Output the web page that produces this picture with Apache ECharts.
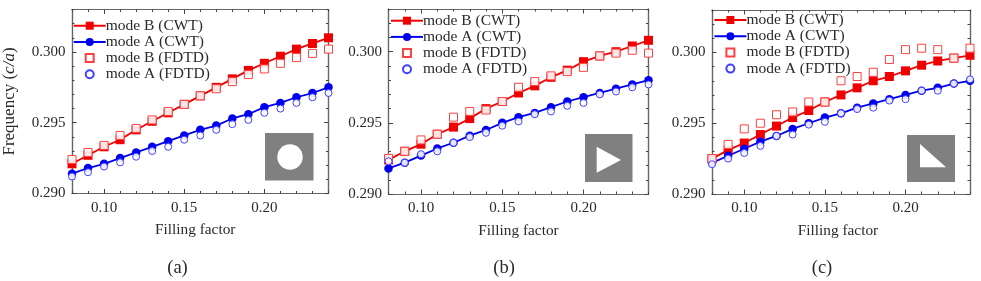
<!DOCTYPE html>
<html><head><meta charset="utf-8">
<style>html,body{margin:0;padding:0;background:#fff}#c{width:981px;height:281px}</style>
<script src="https://cdn.jsdelivr.net/npm/echarts@6/dist/echarts.min.js"></script>
</head><body><div id="c"></div>
<script>
const fillingFactor = [0.08,0.09,0.10,0.11,0.12,0.13,0.14,0.15,0.16,0.17,0.18,0.19,0.20,0.21,0.22,0.23,0.24];
const xMajor = [0.10,0.15,0.20];
const yMajor = [0.290,0.295,0.300];
const names = ['mode B (CWT)','mode A (CWT)','mode B (FDTD)','mode A (FDTD)'];
const captions = ['(a)','(b)','(c)'];

const aBcwt = [.2921,.2927,.2933,.2938,.2945,.2951,.2957,.2963,.2969,.2975,.2981,.2987,.2992,.2997,.3002,.3006,.3010];
const aAcwt = [.2914,.2918,.2921,.2925,.2929,.2933,.2937,.2941,.2945,.2948,.2953,.2956,.2961,.2964,.2968,.2971,.2975];
const aBfdtd = [.2924,.2929,.2934,.2941,.2946,.2952,.2958,.2963,.2969,.2974,.2979,.2984,.2988,.2992,.2996,.2999,.3002];
const aAfdtd = [.2912,.2915,.2919,.2922,.2926,.2930,.2933,.2938,.2941,.2945,.2949,.2952,.2957,.2960,.2964,.2968,.2971];

const bBcwt = [.2924,.2930,.2935,.2942,.2947,.2953,.2960,.2965,.2971,.2976,.2982,.2987,.2993,.2997,.3000,.3004,.3008];
const bAcwt = [.2918,.2922,.2927,.2932,.2936,.2941,.2945,.2950,.2954,.2957,.2961,.2965,.2968,.2971,.2974,.2977,.2980];
const bBfdtd = [.2925,.2930,.2938,.2942,.2954,.2958,.2959,.2965,.2975,.2979,.2983,.2986,.2989,.2997,.2999,.3001,.2999];
const bAfdtd = [.2923,.2922,.2928,.2930,.2936,.2940,.2943,.2948,.2951,.2956,.2958,.2962,.2964,.2970,.2972,.2975,.2977];

const cBcwt = [.2925,.2931,.2936,.2942,.2948,.2954,.2959,.2965,.2970,.2975,.2980,.2983,.2987,.2991,.2994,.2996,.2998];
const cAcwt = [.2922,.2927,.2932,.2937,.2941,.2946,.2950,.2954,.2957,.2961,.2964,.2967,.2970,.2973,.2975,.2978,.2980];
const cBfdtd = [.2925,.2935,.2946,.2950,.2956,.2958,.2965,.2965,.2980,.2983,.2986,.2995,.3002,.3003,.3002,.2996,.3003];
const cAfdtd = [.2921,.2925,.2929,.2934,.2941,.2942,.2949,.2951,.2957,.2960,.2961,.2966,.2967,.2973,.2973,.2978,.2981];

const panels = [
  {left:70.5,top:9.5,width:258,height:184,vals:[aBcwt,aAcwt,aBfdtd,aAfdtd],cap:177.5,namePad:10,legLeft:72.7,legTop:17.7},
  {left:388.5,top:9,width:260,height:185,vals:[bBcwt,bAcwt,bBfdtd,bAfdtd],cap:504,namePad:0,legLeft:390,legTop:12.7},
  {left:712,top:10,width:258,height:184,vals:[cBcwt,cAcwt,cBfdtd,cAfdtd],cap:822,namePad:6,legLeft:713.4,legTop:12}
];
const FONT = '"Liberation Serif"';
const TXT = '#2a2a2a', AX = '#666';
const RED = '#f00000', BLUE = '#0000f0';
const xA=[],yA=[],grids=[],series=[],legends=[],titles=[];

panels.forEach((p,i)=>{
  grids.push({left:p.left,top:p.top,width:p.width,height:p.height});
  const xs=xA.length, ys=yA.length;
  const base={gridIndex:i,type:'value',splitLine:{show:false},axisLine:{lineStyle:{color:AX,width:1.2},onZero:false}};
  const mkX=(pos,major,label)=>({...base,position:pos,min:0.08,max:0.24,interval:0.01,
    axisTick:{show:true,inside:true,length:major?4.5:2.5,lineStyle:{color:'#444'},customValues:major?xMajor:undefined},
    axisLabel:label?{show:true,customValues:xMajor,formatter:v=>v.toFixed(2),fontFamily:FONT,fontSize:15,color:TXT,margin:7}:{show:false},
    name:label?'Filling factor':'',nameLocation:'middle',nameGap:29,
    nameTextStyle:{fontFamily:FONT,fontSize:15.3,color:TXT,padding:[0,p.namePad,0,0]}});
  const mkY=(pos,major,label)=>({...base,position:pos,min:0.29,max:0.303,interval:0.001,
    axisTick:{show:true,inside:true,length:major?4.5:2.5,lineStyle:{color:'#444'},customValues:major?yMajor:undefined},
    axisLabel:label?{show:true,customValues:yMajor,formatter:v=>v.toFixed(3),fontFamily:FONT,fontSize:15,color:TXT,margin:6.5}:{show:false},
    name:(label&&i===0)?'Frequency ({i|c/a})':'',nameLocation:'middle',nameGap:54,
    nameTextStyle:{fontFamily:FONT,fontSize:17,color:TXT,rich:{i:{fontFamily:FONT,fontStyle:'italic',fontSize:17,color:TXT}}}});
  xA.push(mkX('bottom',false,true),mkX('bottom',true,false),mkX('top',false,false),mkX('top',true,false));
  yA.push(mkY('left',false,true),mkY('left',true,false),mkY('right',false,false),mkY('right',true,false));
  names.forEach((n,k)=>{
    const data=fillingFactor.map((x,j)=>[x,p.vals[k][j]]);
    const col=k%2===0?RED:BLUE, sym=k%2===0?'rect':'circle';
    if(k<2){
      series.push({type:'line',name:n,xAxisIndex:xs,yAxisIndex:ys,data,symbol:sym,symbolSize:k===0?9:8.5,showSymbol:true,
        lineStyle:{color:col,width:1.8},itemStyle:{color:col},z:3,animation:false});
    }else{
      series.push({type:'line',name:n,xAxisIndex:xs,yAxisIndex:ys,data,symbol:sym,symbolSize:k===2?8:7,showSymbol:true,
        lineStyle:{width:0,opacity:0},
        itemStyle:{color:'rgba(255,255,255,0.9)',borderColor:k===2?'#ff4040':'#4040ff',borderWidth:1},z:4,animation:false});
    }
  });
  legends.push({show:true,orient:'vertical',left:p.legLeft,top:p.legTop,padding:0,itemWidth:32,itemHeight:10,itemGap:0.2,
    data:names.map(n=>({name:n})),selectedMode:false,
    textStyle:{fontFamily:FONT,fontSize:15.5,color:TXT,padding:[0,0,0,-5]}});
  titles.push({text:captions[i],left:p.cap,top:259,textAlign:'center',padding:0,
    textStyle:{fontFamily:FONT,fontSize:18.5,fontWeight:'normal',color:TXT}});
});

const GRAY='#808080';
const graphic=[
  {type:'rect',shape:{x:265,y:133,width:48.5,height:47.5},style:{fill:GRAY},z:10},
  {type:'circle',shape:{cx:290,cy:157,r:12.7},style:{fill:'#fff'},z:11},
  {type:'rect',shape:{x:585,y:134,width:47.5,height:48},style:{fill:GRAY},z:10},
  {type:'polygon',shape:{points:[[596.7,146.7],[596.7,172.7],[621,160]]},style:{fill:'#fff'},z:11},
  {type:'rect',shape:{x:907,y:135,width:48,height:47},style:{fill:GRAY},z:10},
  {type:'polygon',shape:{points:[[920,144],[920,167.3],[946,167.3]]},style:{fill:'#fff'},z:11}
];

const chart=echarts.init(document.getElementById('c'),null,{renderer:'canvas'});
chart.setOption({animation:false,backgroundColor:'#fff',grid:grids,xAxis:xA,yAxis:yA,series,title:titles,graphic,legend:legends});
</script></body></html>
